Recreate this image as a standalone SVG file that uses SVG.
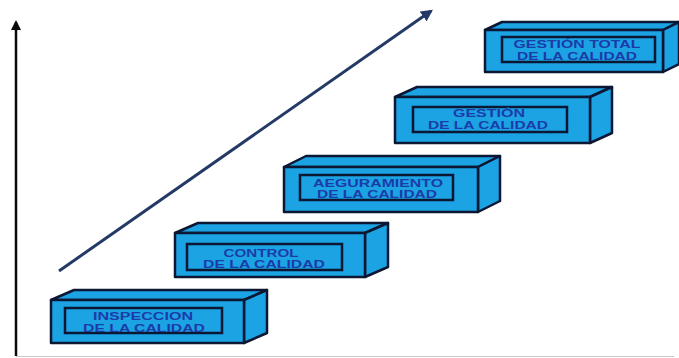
<svg xmlns="http://www.w3.org/2000/svg" width="679" height="358" viewBox="0 0 679 358">
<style>
.face{fill:#1ba3e4;stroke:#0c1733;stroke-width:2.5;stroke-linejoin:round}
.inner{fill:#1ba3e4;stroke:#0c1733;stroke-width:2.5}
.lbl{font-family:"Liberation Sans",Arial,sans-serif;font-weight:bold;font-size:11px;fill:#1b3ca8;text-anchor:middle}
</style>
<defs>
<marker id="ah" viewBox="0 0 10 10" refX="8" refY="5" markerWidth="4" markerHeight="4" orient="auto" markerUnits="strokeWidth">
<path d="M0,0 L10,5 L0,10 z" fill="#0a0a0a"/>
</marker>
<marker id="ah2" viewBox="0 0 10 10" refX="8" refY="5" markerWidth="4" markerHeight="4" orient="auto" markerUnits="strokeWidth">
<path d="M0,0 L10,5 L0,10 z" fill="#243a66"/>
</marker>
</defs>
<rect width="679" height="358" fill="#ffffff"/>
<g id="connectors">
<line x1="16" y1="356" x2="16" y2="22" stroke="#0a0a0a" stroke-width="2.5" marker-end="url(#ah)"/>
<line x1="16" y1="356.5" x2="674" y2="356.5" stroke="#c8c8c8" stroke-width="1"/>
<line x1="59" y1="271" x2="431" y2="11" stroke="#243a66" stroke-width="3" marker-end="url(#ah2)"/>
</g>
<g id="box1">
<path class="face" d="M51,300 L74,290 L267,290 L244,300 Z"/>
<path class="face" d="M244,300 L267,290 L267,333 L244,343 Z"/>
<rect class="face" x="51" y="300" width="193" height="43"/>
<rect class="inner" x="65" y="308" width="157" height="25"/>
<text class="lbl" x="143" y="320" textLength="100" lengthAdjust="spacingAndGlyphs">INSPECCION</text>
<text class="lbl" x="144" y="332" textLength="122" lengthAdjust="spacingAndGlyphs">DE LA CALIDAD</text>
</g>
<g id="box2">
<path class="face" d="M175,233 L198,223 L388,223 L365,233 Z"/>
<path class="face" d="M365,233 L388,223 L388,267 L365,277 Z"/>
<rect class="face" x="175" y="233" width="190" height="44"/>
<rect class="inner" x="187" y="244" width="155" height="26"/>
<text class="lbl" x="261" y="257" textLength="75" lengthAdjust="spacingAndGlyphs">CONTROL</text>
<text class="lbl" x="264" y="268" textLength="122" lengthAdjust="spacingAndGlyphs">DE LA CALIDAD</text>
</g>
<g id="box3">
<path class="face" d="M284,167 L306,156 L500,156 L478,167 Z"/>
<path class="face" d="M478,167 L500,156 L500,201 L478,212 Z"/>
<rect class="face" x="284" y="167" width="194" height="45"/>
<rect class="inner" x="300" y="175" width="153" height="25"/>
<text class="lbl" x="378" y="187" textLength="130" lengthAdjust="spacingAndGlyphs">AEGURAMIENTO</text>
<text class="lbl" x="377" y="198" textLength="120" lengthAdjust="spacingAndGlyphs">DE LA CALIDAD</text>
</g>
<g id="box4">
<path class="face" d="M395,97 L417,87 L612,87 L590,97 Z"/>
<path class="face" d="M590,97 L612,87 L612,133 L590,143 Z"/>
<rect class="face" x="395" y="97" width="195" height="46"/>
<rect class="inner" x="413" y="107" width="154" height="25"/>
<text class="lbl" x="489" y="117" textLength="72" lengthAdjust="spacingAndGlyphs">GESTIÓN</text>
<text class="lbl" x="488" y="129" textLength="120" lengthAdjust="spacingAndGlyphs">DE LA CALIDAD</text>
</g>
<g id="box5">
<path class="face" d="M485,30 L502,22 L679,22 L663,30 Z"/>
<path class="face" d="M663,30 L679,22 L679,64 L663,72 Z"/>
<rect class="face" x="485" y="30" width="178" height="42"/>
<rect class="inner" x="502" y="37" width="153" height="25"/>
<text class="lbl" x="577" y="48" textLength="127" lengthAdjust="spacingAndGlyphs">GESTIÓN TOTAL</text>
<text class="lbl" x="577" y="60" textLength="120" lengthAdjust="spacingAndGlyphs">DE LA CALIDAD</text>
</g>
</svg>
